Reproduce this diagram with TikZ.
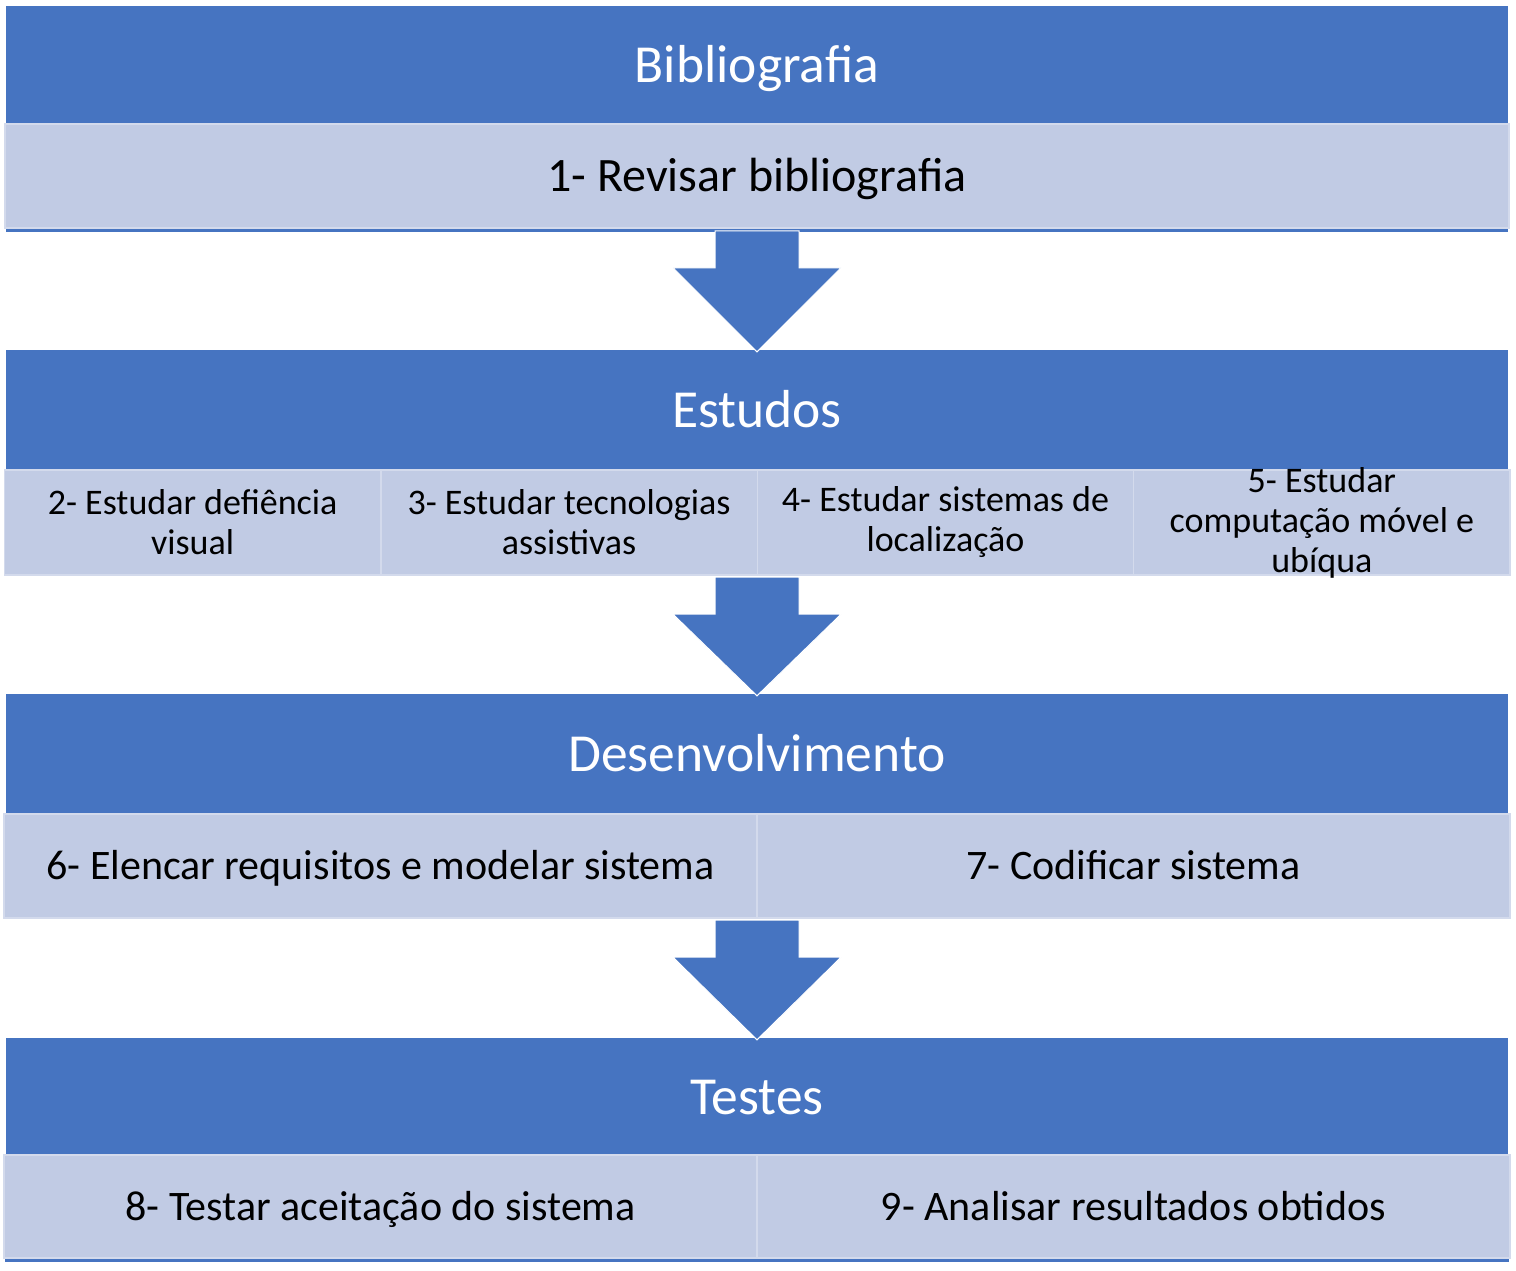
\documentclass[tikz,border=0pt]{standalone}
\usepackage{fontspec}
\setmainfont{Carlito}
\usetikzlibrary{calc}
\definecolor{darkblue}{RGB}{70,116,193}
\definecolor{lightblue}{RGB}{193,203,228}
\definecolor{cellline}{RGB}{211,218,236}
\newcommand{\blockarrow}[2]{%
\fill [darkblue, draw=white, line width=1pt] ($(#1.south)+(-42,2)$) -- ($(#1.south)+(42,2)$)
  -- ($(#1.south)+(42,39)$) -- ($(#1.south)+(84,39)$) -- ($(#2.north)+(0,2)$)
  -- ($(#1.south)+(-84,39)$) -- ($(#1.south)+(-42,39)$) -- cycle;}
\begin{document}
\begin{tikzpicture}[x=1pt, y=-1pt,
  header/.style={fill=darkblue, text=white, minimum width=1502pt, inner sep=0pt,
    text height=45.5pt, text depth=10.5pt, font=\fontsize{53.5}{60}\selectfont},
  cell/.style={fill=lightblue, draw=cellline, line width=1.5pt, inner sep=0pt},
  item/.style={cell, text height=35.7pt, text depth=8.4pt, font=\fontsize{42}{48}\selectfont},
  bigitem/.style={cell, text height=40.8pt, text depth=9.6pt, font=\fontsize{48}{54}\selectfont},
  smallitem/.style={cell, minimum width=376.5pt, minimum height=105pt, align=center,
    font=\fontsize{36}{40}\selectfont},
  rowmark/.style={inner sep=0pt, minimum size=0pt},
  baseline/.style={darkblue, line width=3pt}]
\useasboundingbox (0,0) rectangle (1516,1270);
% Bibliografia
\node [header, minimum height=118pt] (bib) at (757,65) {Bibliografia};
\node [bigitem, minimum width=1504pt, minimum height=104pt] (rev) at (757,176) {1- Revisar bibliografia};
\draw [baseline] (rev.south west) ++(2,1.5) -- ($(rev.south east)+(-2,1.5)$);
% Estudos
\node [header, minimum height=120pt] (est) at (757,410) {Estudos};
\node [smallitem] (def) at (192.6,522.5) {2- Estudar defiência\\visual};
\node [smallitem] (tec) at (569,522.5) {3- Estudar tecnologias\\assistivas};
\node [smallitem] (loc) at (945.5,522.5) {4- Estudar sistemas de\\localização};
\node [smallitem, inner ysep=-12pt] (comp) at (1321.9,522.5) {5- Estudar\\computação móvel e\\ubíqua};
\blockarrow{rev}{est}
% Desenvolvimento
\node [header, minimum height=120pt] (des) at (757,754) {Desenvolvimento};
\node [item, minimum width=753pt, minimum height=104pt] (req) at (380.5,866) {6- Elencar requisitos e modelar sistema};
\node [item, minimum width=753pt, minimum height=104pt] (cod) at (1133.5,866) {7- Codificar sistema};
\node [rowmark] (estrow) at (757,575) {};
\blockarrow{estrow}{des}
% Testes
\node [header, minimum height=117pt] (tes) at (757,1096.5) {Testes};
\node [item, minimum width=753pt, minimum height=103pt] (ace) at (380.5,1206.5) {8- Testar aceitação do sistema};
\node [item, minimum width=753pt, minimum height=103pt] (res) at (1133.5,1206.5) {9- Analisar resultados obtidos};
\draw [baseline] (ace.south west) ++(2,1.5) -- ($(res.south east)+(-2,1.5)$);
\node [rowmark] (desrow) at (757,918) {};
\blockarrow{desrow}{tes}
\end{tikzpicture}
\end{document}
